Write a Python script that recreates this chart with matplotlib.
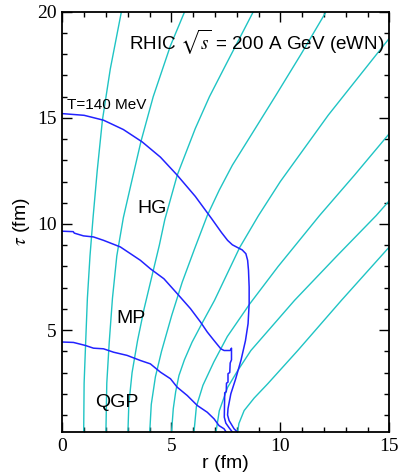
import matplotlib
matplotlib.use("Agg")
import matplotlib.pyplot as plt
from matplotlib.ticker import MultipleLocator

plt.rcParams['mathtext.fontset'] = 'stix'

# flow lines of fluid cells, r (fm) vs tau (fm)
flow1_r = [0.98, 1.0, 1.07, 1.15, 1.27, 1.41, 1.6, 1.84, 2.2, 2.71]
flow1_t = [0.2, 2.5, 4.4, 6.5, 8.5, 10.3, 12.5, 14.9, 17.3, 20.0]
flow2_r = [2.0, 2.04, 2.15, 2.3, 2.5, 2.8, 3.18, 3.61, 4.17, 4.96, 5.61]
flow2_t = [0.2, 2.5, 4.4, 6.5, 8.5, 10.3, 12.0, 13.9, 16.0, 18.4, 20.0]
flow3_r = [3.01, 3.05, 3.2, 3.45, 3.75, 4.1, 4.45, 4.7, 5.27, 6.1, 6.75, 7.5, 8.76]
flow3_t = [0.2, 1.5, 3.0, 4.5, 6.0, 7.5, 9.0, 10.2, 12.3, 14.5, 16.0, 17.5, 20.0]
flow4_r = [4.01, 4.08, 4.27, 4.55, 5.02, 5.5, 6.07, 6.65, 7.2, 7.8, 8.85, 9.8, 10.95, 12.1]
flow4_t = [0.2, 1.5, 2.8, 4.0, 5.7, 7.26, 8.84, 10.4, 11.6, 12.77, 14.5, 16.07, 18.0, 20.0]
flow5_r = [5.01, 5.09, 5.2, 5.35, 5.6, 5.95, 6.45, 6.98, 8.14, 9.0, 10.0, 12.2, 15.0]
flow5_t = [0.2, 1.3, 2.1, 2.86, 3.6, 4.43, 5.4, 6.4, 8.9, 10.4, 12.0, 15.13, 18.75]
flow6_r = [6.04, 6.15, 6.45, 6.95, 7.57, 8.6, 9.9, 11.8, 13.4, 15.0]
flow6_t = [0.2, 1.4, 2.4, 3.5, 4.7, 6.24, 8.0, 10.4, 12.3, 14.26]
flow7_r = [7.05, 7.2, 7.58, 8.05, 8.65, 10.65, 12.6, 14.4, 15.0]
flow7_t = [0.2, 1.2, 2.3, 3.1, 4.04, 6.4, 8.5, 10.4, 11.1]
flow8_r = [8.04, 8.1, 8.34, 8.8, 9.42, 10.8, 12.8, 15.0]
flow8_t = [0.19, 0.6, 1.21, 1.8, 2.47, 4.04, 6.4, 8.92]

# T = 140 MeV freeze-out surface
fo_r = [0, 1.0, 1.89, 2.8, 3.66, 4.5, 5.27, 6.1, 6.85, 7.3, 7.58, 7.8, 8.04, 8.25,
        8.42, 8.5, 8.54, 8.57, 8.57, 8.52, 8.4, 8.2, 7.95, 7.73, 7.6, 7.58, 7.65,
        7.88, 8.06]
fo_t = [15.2, 15.12, 14.89, 14.45, 13.87, 13.15, 12.3, 11.3, 10.25, 9.6, 9.23, 9.02,
        8.89, 8.78, 8.6, 8.29, 7.82, 7.03, 6.24, 5.3, 4.5, 3.6, 2.7, 2.0, 1.3, 1.0,
        0.74, 0.35, 0.17]

# mixed phase / hadron gas boundary
mh_r = [0, 0.5, 0.55, 0.97, 1.43, 1.89, 2.66, 3.58, 4.04, 4.66, 5.27, 5.88, 6.34,
        6.65, 6.96, 7.27, 7.42, 7.7, 7.76, 7.76, 7.7, 7.68, 7.6, 7.6, 7.53, 7.52,
        7.45, 7.44, 7.43, 7.5, 7.65, 7.8]
mh_t = [9.66, 9.64, 9.57, 9.44, 9.39, 9.23, 8.92, 8.29, 7.89, 7.42, 6.72, 6.01, 5.38,
        4.91, 4.51, 4.12, 4.04, 4.04, 4.15, 3.6, 3.45, 3.0, 2.95, 2.55, 2.5, 2.1,
        2.05, 1.5, 0.9, 0.62, 0.4, 0.2]

# QGP / mixed phase boundary
qm_r = [0, 0.51, 1.05, 1.43, 1.89, 2.35, 2.97, 3.58, 4.04, 4.5, 4.96, 5.27, 5.73,
        6.19, 6.65, 6.96, 7.19, 7.42, 7.57]
qm_t = [4.44, 4.42, 4.28, 4.15, 4.12, 3.96, 3.81, 3.57, 3.41, 3.02, 2.71, 2.31, 1.92,
        1.45, 1.13, 0.82, 0.5, 0.35, 0.11]

flows = [(flow1_r, flow1_t), (flow2_r, flow2_t), (flow3_r, flow3_t), (flow4_r, flow4_t),
         (flow5_r, flow5_t), (flow6_r, flow6_t), (flow7_r, flow7_t), (flow8_r, flow8_t)]

cyan = '#1fc4c4'
blue = '#2222ff'

fig = plt.figure(figsize=(4.01, 4.75), dpi=100)
ax = fig.add_axes([0.1554, 0.0905, 0.8155, 0.8848])

for r, t in flows:
    ax.plot(r, t, color=cyan, lw=1.0)
ax.plot(fo_r, fo_t, color=blue, lw=1.1)
ax.plot(mh_r, mh_t, color=blue, lw=1.1)
ax.plot(qm_r, qm_t, color=blue, lw=1.1)

ax.set_xlim(0, 15)
ax.set_ylim(0.2, 20)
ax.xaxis.set_major_locator(MultipleLocator(5))
ax.xaxis.set_minor_locator(MultipleLocator(1))
ax.yaxis.set_major_locator(MultipleLocator(5))
ax.yaxis.set_minor_locator(MultipleLocator(1))
ax.tick_params(which='both', direction='in', top=True, right=True, width=1.0)
ax.tick_params(which='major', length=7, pad=4, labelsize=14)
ax.tick_params(which='minor', length=3.5)
for lab in ax.get_xticklabels() + ax.get_yticklabels():
    lab.set_family('Liberation Serif')
for s in ax.spines.values():
    s.set_linewidth(1.3)

sans = 'Liberation Sans'
ax.set_xlabel('r (fm)', family=sans, fontsize=14, labelpad=0)
ax.set_ylabel(r'$\tau$ (fm)', family=sans, fontsize=14, labelpad=4)

ax.text(3.04, 18.25, r'RHIC $\sqrt{s}$ = 200 A GeV (eWN)', family=sans, fontsize=13.6,
        ha='left', va='baseline')
ax.text(0.2, 15.4, 'T=140 MeV', family=sans, fontsize=11, ha='left', va='baseline')
ax.text(4.13, 10.75, 'HG', family=sans, fontsize=14, ha='center', va='center')
ax.text(3.16, 5.55, 'MP', family=sans, fontsize=14, ha='center', va='center')
ax.text(2.48, 1.57, 'QGP', family=sans, fontsize=14, ha='center', va='center')

fig.savefig('out.png', dpi=100)
